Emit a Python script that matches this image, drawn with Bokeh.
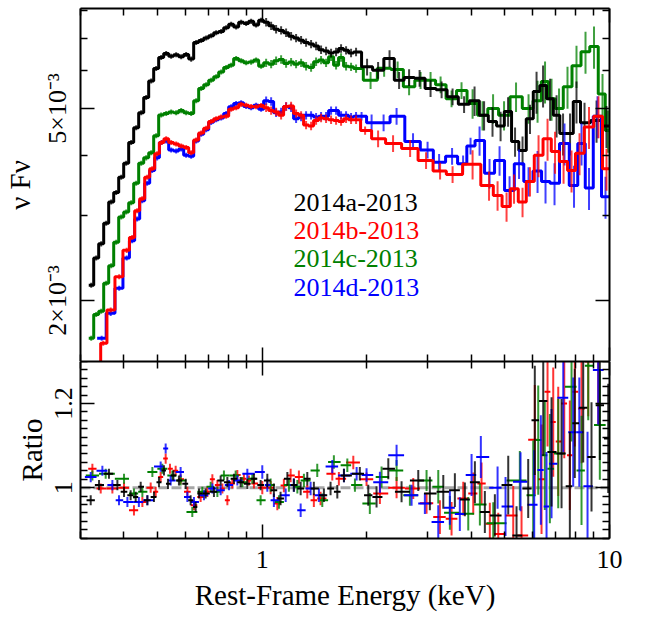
import numpy as np
from bokeh.plotting import figure
from bokeh.models import FixedTicker, LogAxis, LinearAxis, Span
from bokeh.layouts import column
from bokeh.core.properties import value
from bokeh.embed import file_html
from bokeh.resources import INLINE

FONT = "Liberation Serif"

# ---------------- data ----------------
# fine energy grid (keV, bin centres) shared by the low-energy parts of the spectra
E_FINE = [0.3221, 0.3329, 0.3441, 0.3557, 0.3677, 0.3801, 0.3929, 0.4061, 0.4198, 0.4339,
          0.4486, 0.4637, 0.4793, 0.4954, 0.5121, 0.5294, 0.5472, 0.5656, 0.5847, 0.6044,
          0.6248, 0.6458, 0.6676, 0.6901, 0.7133, 0.7374, 0.7622, 0.7879, 0.8144, 0.8418,
          0.8702, 0.8995, 0.9297, 0.9610, 0.9934, 1.0269, 1.0615, 1.0971, 1.1341, 1.1722,
          1.2117, 1.2525, 1.2947, 1.3383, 1.3834, 1.4300, 1.4781, 1.5279, 1.5794, 1.6326,
          1.6876, 1.7445, 1.8032, 1.8639]

# nu F nu in units of 1e-3
BLACK_E = E_FINE + [2.005, 2.157, 2.327, 2.479, 2.649, 2.840, 3.054, 3.286, 3.534, 3.814,
                    4.088, 4.355, 4.605, 4.858, 5.105, 5.347, 5.619, 5.904, 6.166, 6.438,
                    6.745, 7.041, 7.350, 7.699, 8.035, 8.474, 9.177, 9.80]
BLACK_F = [2.15, 2.45, 2.62, 2.89, 3.20, 3.35, 3.60, 3.85, 4.25, 4.56,
           4.90, 5.27, 5.70, 6.05, 6.38, 6.50, 6.42, 6.46, 6.40, 6.47,
           6.33, 6.85, 6.92, 7.00, 7.08, 7.18, 7.22, 7.35, 7.48, 7.38,
           7.55, 7.50, 7.58, 7.45, 7.62, 7.55, 7.42, 7.30, 7.26, 7.18,
           7.06, 7.00, 6.93, 6.85, 6.80, 6.74, 6.62, 6.58, 6.52, 6.55,
           6.66, 6.60, 6.52, 6.55,
           6.10, 6.00, 6.35, 5.72, 5.80, 5.78, 5.50, 5.47, 5.29, 5.10,
           5.19, 4.84, 4.70, 4.60, 4.93, 4.27, 4.09, 4.76, 5.42, 5.58,
           5.24, 4.84, 4.44, 4.44, 5.17, 4.67, 4.72, 4.60]

GREEN_E = E_FINE + [2.052, 2.245, 2.455, 2.649, 2.858, 3.054, 3.264, 3.510, 3.750, 4.035,
                    4.310, 4.622, 4.971, 5.382, 5.847, 6.207, 6.523, 6.810, 7.157, 7.570,
                    8.035, 8.530, 9.024, 9.548, 9.90]
GREEN_F = [1.67, 1.87, 1.90, 2.17, 2.36, 2.64, 2.98, 3.05, 3.19, 3.50,
           3.85, 3.95, 4.05, 4.39, 4.85, 4.88, 4.92, 4.90, 4.95, 4.90,
           4.88, 5.19, 5.50, 5.60, 5.72, 5.82, 5.95, 6.08, 6.15, 6.35,
           6.28, 6.22, 6.24, 6.30, 6.12, 6.22, 6.18, 6.28, 6.32, 6.20,
           6.24, 6.18, 6.22, 6.12, 6.08, 6.25, 6.30, 6.22, 6.40, 6.15,
           6.38, 6.12, 6.10, 6.05,
           5.72, 6.06, 6.02, 5.55, 5.72, 5.72, 5.60, 5.24, 5.45, 5.12,
           4.84, 5.00, 4.84, 5.29, 5.00, 5.19, 5.69, 5.24, 5.00, 5.55,
           6.13, 6.56, 6.72, 5.36, 4.50]

RED_E = ([0.3373, 0.3487, 0.3665, 0.3877, 0.4075, 0.4225, 0.4367, 0.4516, 0.4667, 0.4825,
          0.4986, 0.5138, 0.5294] + E_FINE[16:] +
         [1.979, 2.157, 2.382, 2.667, 2.964, 3.253, 3.534, 4.035, 4.500, 4.762,
          5.054, 5.311, 5.619, 5.904, 6.248, 6.632, 6.970, 7.375, 7.775, 8.198,
          8.730, 9.296, 9.804])
RED_F = [1.45, 1.63, 1.91, 2.24, 2.54, 2.70, 3.07, 3.25, 3.60, 3.75,
         4.03, 4.25, 4.33,
         4.25, 4.22, 4.18, 4.15, 4.05, 4.30, 4.45, 4.55, 4.70, 4.76,
         4.80, 4.82, 4.98, 5.02, 5.10, 5.08, 5.05, 5.04, 5.07, 5.02,
         4.95, 4.92, 4.84, 5.05, 5.06, 4.88, 4.84, 4.62, 4.60, 4.72,
         4.78, 4.76, 4.74, 4.72, 4.70, 4.76, 4.74, 4.74,
         4.50, 4.33, 4.23, 4.13, 3.90, 3.71, 3.65, 3.83, 3.46, 3.30,
         3.13, 3.41, 3.20, 3.53, 4.00, 4.33, 4.07, 3.88, 3.72, 4.04,
         4.58, 4.82, 3.75]

BLUE_E = ([0.3452, 0.3665, 0.3877, 0.4075, 0.4225, 0.4367, 0.4516, 0.4667, 0.4825, 0.4986,
           0.5138] + E_FINE[15:] +
          [1.933, 2.066, 2.237, 2.438, 2.719, 2.994, 3.232, 3.522, 3.789, 3.981,
           4.226, 4.515, 4.825, 5.156, 5.490, 5.847, 6.207, 6.544, 6.946, 7.422,
           7.904, 8.307, 8.730, 9.237, 9.739])
BLUE_F = [1.67, 1.88, 2.12, 2.45, 2.66, 2.95, 3.22, 3.50, 3.72, 3.95,
          4.25,
          4.28, 4.10, 4.08, 4.12, 4.00, 3.98, 4.28, 4.42, 4.52, 4.68,
          4.74, 4.78, 4.88, 5.04, 5.12, 5.14, 5.05, 5.02, 5.08, 4.98,
          5.19, 5.17, 4.90, 4.92, 5.05, 5.02, 4.76, 4.80, 4.84, 4.84,
          4.80, 4.82, 4.82, 4.95, 4.95, 4.84, 4.84, 4.80, 4.82,
          4.82, 4.67, 4.67, 4.82, 4.27, 4.10, 3.87, 3.98, 3.84, 4.18,
          4.29, 3.67, 3.90, 3.38, 3.84, 3.53, 3.71, 3.53, 3.50, 4.23,
          3.46, 4.23, 3.42, 4.82, 3.28]

# fractional 1-sigma errors of the spectra, by energy band (keV band edges)
FLUX_ERR_EDGES = [1.0, 2.0, 4.0, 6.0]
FLUX_ERR_FRAC = [0.012, 0.02, 0.04, 0.07, 0.10]

# ratio panel
BLACK_RE = [0.321, 0.3392, 0.3623, 0.3831, 0.4003, 0.4183, 0.4325, 0.4471, 0.4673, 0.4883,
            0.5047, 0.5217, 0.5357, 0.5553, 0.5761, 0.6025, 0.6226, 0.6436, 0.6579, 0.6878,
            0.7266, 0.7596, 0.7942, 0.8296, 0.8673, 0.9066, 0.9471, 0.9901, 1.035, 1.081,
            1.130, 1.182, 1.234, 1.291, 1.349, 1.409, 1.506, 1.574, 1.646, 1.720,
            1.911, 2.021, 2.135, 2.308, 2.520, 2.815, 3.040, 3.323, 3.588, 3.834,
            4.097, 4.377, 4.677, 5.111, 5.400, 5.834, 6.095, 6.446, 6.810, 7.277,
            7.689, 7.946, 8.401, 8.876, 9.379, 9.915]
BLACK_R = [0.97, 1.006, 1.033, 1.006, 0.99, 0.982, 0.978, 1.002, 0.97, 0.978,
           1.013, 1.041, 1.009, 1.029, 1.017, 1.009, 0.97, 0.954, 0.986, 0.986,
           0.99, 1.017, 1.013, 1.021, 1.013, 1.009, 1.021, 1.006, 1.017, 0.994,
           0.974, 1.021, 1.006, 0.998, 1.021, 0.998, 0.982, 0.998, 0.99, 1.029,
           1.033, 0.982, 0.978, 1.045, 0.99, 1.017, 0.986, 0.99, 0.994, 0.972,
           1.013, 0.942, 0.934, 1.006, 0.886, 0.998, 1.16, 1.206, 1.085, 1.081,
           1.003, 1.153, 1.19, 1.073, 1.196, 1.117]

RED_RE = [0.3246, 0.3430, 0.3706, 0.4003, 0.4276, 0.4521, 0.4777, 0.4938, 0.5104, 0.5276,
          0.5429, 0.5637, 0.5826, 0.6092, 0.6364, 0.6652, 0.6955, 0.7190, 0.7433, 0.7683,
          0.7942, 0.8207, 0.8484, 0.8862, 0.9163, 0.9471, 1.001, 1.058, 1.106, 1.155,
          1.208, 1.276, 1.349, 1.409, 1.473, 1.592, 1.663, 1.830, 1.998, 2.183,
          2.438, 2.723, 2.974, 3.249, 3.510, 3.793, 4.053, 4.282, 4.524, 4.784,
          5.283, 5.582, 6.095, 6.373, 6.632, 6.887, 7.119, 7.409, 7.689, 7.946,
          8.307, 8.685, 9.279]
RED_R = [1.045, 0.998, 0.998, 1.0, 0.946, 0.966, 1.0, 0.99, 1.025, 1.069,
         1.045, 1.04, 1.02, 0.99, 0.958, 0.978, 0.99, 1.02, 1.006, 0.998,
         0.97, 1.01, 1.03, 1.021, 1.017, 1.01, 1.0, 1.0, 0.962, 1.005,
         1.029, 1.025, 0.99, 0.97, 0.974, 1.033, 1.021, 1.06, 1.02, 0.986,
         1.0, 0.998, 0.963, 0.93, 0.926, 0.974, 0.986, 1.01, 0.914, 0.89,
         0.934, 0.886, 1.114, 1.02, 1.228, 1.156, 1.11, 1.2, 1.077, 1.228,
         1.188, 1.30, 1.28]

GREEN_RE = [0.3246, 0.3545, 0.4003, 0.4276, 0.4521, 0.4831, 0.5161, 0.5514, 0.5826, 0.6295,
            0.6728, 0.7109, 0.7433, 0.7763, 0.8390, 0.8771, 0.9371, 0.9901, 1.058, 1.118,
            1.194, 1.263, 1.319, 1.441, 1.490, 1.609, 1.759, 1.850, 2.042, 2.207,
            2.438, 2.663, 2.974, 3.214, 3.471, 3.921, 4.235, 4.628, 5.519, 6.031,
            6.235, 6.513, 6.735, 7.119, 7.775, 8.307, 8.685, 9.379]
GREEN_R = [1.029, 1.033, 1.021, 0.986, 0.99, 1.037, 1.045, 1.029, 1.017, 0.942,
           0.99, 1.002, 0.99, 1.029, 1.029, 1.013, 1.021, 0.97, 1.006, 0.966,
           1.006, 1.002, 1.017, 1.041, 0.97, 1.061, 1.053, 1.006, 0.962, 1.025,
           1.041, 0.982, 1.017, 1.002, 0.94, 0.938, 0.96, 0.915, 1.017, 0.982,
           1.113, 1.077, 1.045, 1.081, 1.24, 1.041, 1.29, 1.149]

BLUE_RE = [0.321, 0.3468, 0.3706, 0.3872, 0.4094, 0.4417, 0.4673, 0.5104, 0.5276, 0.5454,
           0.5826, 0.6092, 0.6364, 0.6801, 0.7190, 0.7596, 0.8026, 0.8484, 0.9066, 1.001,
           1.035, 1.081, 1.169, 1.234, 1.291, 1.379, 1.457, 1.592, 1.720, 1.871,
           1.998, 2.183, 2.438, 2.693, 2.941, 3.214, 3.471, 3.708, 4.008, 4.262,
           4.762, 5.020, 5.545, 6.071, 6.344, 6.588, 6.810, 7.360, 7.862, 8.186,
           8.645, 9.279]
BLUE_R = [1.025, 1.04, 1.006, 0.97, 0.966, 0.966, 0.97, 1.05, 1.093, 1.017,
          1.037, 0.978, 0.966, 0.982, 0.998, 0.994, 1.006, 1.017, 1.033, 1.037,
          1.006, 0.97, 0.982, 1.006, 0.946, 0.998, 0.982, 1.05, 1.029, 1.033,
          1.03, 1.013, 1.077, 0.982, 0.962, 0.918, 0.952, 0.937, 1.03, 1.073,
          1.0, 0.955, 1.014, 0.959, 1.042, 0.955, 1.057, 1.214, 1.132, 1.132,
          1.003, 1.28]

RATIO_ERR_EDGES = [1.0, 2.0, 3.0, 4.0, 5.0, 6.0]
RATIO_ERR = [0.012, 0.016, 0.025, 0.04, 0.05, 0.07, 0.13]

LEGEND_LABELS = ["2014a-2013", "2014b-2013", "2014c-2013", "2014d-2013"]
COLORS = {"black": "#000000", "red": "#ff0000", "green": "#008000", "blue": "#0000ff"}

X_MAJOR = [1, 10]
X_MINOR = [0.3, 0.4, 0.5, 0.6, 0.7, 0.8, 0.9, 2, 3, 4, 5, 6, 7, 8, 9]
X_LABELS = {1: "1", 10: "10"}
Y_MAJOR = [0.002, 0.005]
Y_MINOR = [0.003, 0.004, 0.006, 0.007, 0.008]
Y_LABELS = {0.002: "2×10⁻³", 0.005: "5×10⁻³"}
R_MAJOR = [1.0, 1.2]
R_MINOR = [0.88, 0.90, 0.92, 0.94, 0.96, 0.98, 1.02, 1.04, 1.06, 1.08, 1.10,
           1.12, 1.14, 1.16, 1.18, 1.22, 1.24, 1.26, 1.28, 1.30]
R_LABELS = {1.0: "1", 1.2: "1.2"}

# ---------------- layout constants ----------------
X_RANGE = (0.3, 10.0)
FLUX_RANGE = (1.494e-3, 8.06e-3)
RATIO_RANGE = (0.879, 1.30)
FLUX_UNIT = 1e-3
LEGEND_X = 1.232
LEGEND_Y = [3.19e-3, 2.79e-3, 2.44e-3, 2.13e-3]


def bin_edges(c):
    lc = np.log10(np.asarray(c, dtype=float))
    mid = (lc[:-1] + lc[1:]) / 2
    e = np.concatenate([[2 * lc[0] - mid[0]], mid, [2 * lc[-1] - mid[-1]]])
    return 10 ** e


def band(e, edges, vals):
    return np.asarray(vals)[np.digitize(e, edges)]


def style_axis(ax, ticks=None):
    ax.axis_line_width = 2
    ax.axis_line_color = "black"
    ax.major_tick_in = 14
    ax.major_tick_out = 0
    ax.minor_tick_in = 7
    ax.minor_tick_out = 0
    ax.major_tick_line_width = 1.5
    ax.minor_tick_line_width = 1.5
    ax.major_tick_line_color = "black"
    ax.minor_tick_line_color = "black"
    ax.major_label_text_font = FONT
    ax.major_label_text_font_size = "26px"
    ax.major_label_text_color = "black"
    ax.axis_label_text_font = FONT
    ax.axis_label_text_font_size = "29px"
    ax.axis_label_text_font_style = "normal"
    ax.axis_label_text_color = "black"
    if ticks is not None:  # mirror axis: ticks only, no labels
        ax.major_label_overrides = {t: "" for t in ticks}
        ax.major_label_text_font_size = "1px"
        ax.major_label_standoff = 0


def clean(p):
    p.xgrid.visible = False
    p.ygrid.visible = False
    p.outline_line_color = None
    p.background_fill_color = "white"
    p.border_fill_color = "white"


# ---------------- top panel ----------------
top = figure(x_axis_type="log", y_axis_type="log", x_range=X_RANGE, y_range=FLUX_RANGE,
             frame_width=529, frame_height=353,
             min_border_left=76, min_border_right=20, min_border_top=8, min_border_bottom=0,
             output_backend="svg", toolbar_location=None)
clean(top)

top.xaxis[0].ticker = FixedTicker(ticks=X_MAJOR, minor_ticks=X_MINOR)
style_axis(top.xaxis[0], ticks=X_MAJOR)
top.yaxis[0].ticker = FixedTicker(ticks=Y_MAJOR, minor_ticks=Y_MINOR)
style_axis(top.yaxis[0])
top.yaxis[0].major_label_overrides = Y_LABELS
top.yaxis[0].major_label_orientation = "vertical"
top.yaxis[0].major_label_standoff = 8
top.yaxis[0].axis_label = "ν Fν"
top.yaxis[0].axis_label_standoff = 5

ax_above = LogAxis(ticker=FixedTicker(ticks=X_MAJOR, minor_ticks=X_MINOR))
style_axis(ax_above, ticks=X_MAJOR)
top.add_layout(ax_above, "above")
ax_right = LogAxis(ticker=FixedTicker(ticks=Y_MAJOR, minor_ticks=Y_MINOR))
style_axis(ax_right, ticks=Y_MAJOR)
top.add_layout(ax_right, "right")

spectra = [("green", GREEN_E, GREEN_F), ("black", BLACK_E, BLACK_F),
           ("blue", BLUE_E, BLUE_F), ("red", RED_E, RED_F)]
for name, e, f in spectra:
    col = COLORS[name]
    ed = bin_edges(e)
    v = np.asarray(f) * FLUX_UNIT
    xs = np.repeat(ed, 2)[1:-1]
    ys = np.repeat(v, 2)
    frac = band(np.asarray(e), FLUX_ERR_EDGES, FLUX_ERR_FRAC)
    top.segment(x0=e, y0=v * (1 - frac), x1=e, y1=v * (1 + frac),
                line_color=col, line_width=2, line_alpha=0.75)
    top.line(xs, ys, line_color=col, line_width=3)

legend_colors = [COLORS["black"], COLORS["red"], COLORS["green"], COLORS["blue"]]
top.text(x=[LEGEND_X] * 4, y=LEGEND_Y, text=LEGEND_LABELS, text_color=legend_colors,
         text_font=value(FONT), text_font_size="26px",
         text_align="left", text_baseline="middle")

# ---------------- ratio panel ----------------
bot = figure(x_axis_type="log", x_range=top.x_range, y_range=RATIO_RANGE,
             frame_width=529, frame_height=177,
             min_border_left=76, min_border_right=20, min_border_top=0, min_border_bottom=76,
             output_backend="svg", toolbar_location=None)
clean(bot)

bot.xaxis[0].ticker = FixedTicker(ticks=X_MAJOR, minor_ticks=X_MINOR)
style_axis(bot.xaxis[0])
bot.xaxis[0].major_label_overrides = X_LABELS
bot.xaxis[0].major_label_standoff = 12
bot.xaxis[0].axis_label = "Rest-Frame Energy (keV)"
bot.xaxis[0].axis_label_standoff = 8

bot.yaxis[0].ticker = FixedTicker(ticks=R_MAJOR, minor_ticks=R_MINOR)
style_axis(bot.yaxis[0])
bot.yaxis[0].major_label_overrides = R_LABELS
bot.yaxis[0].major_label_orientation = "vertical"
bot.yaxis[0].major_label_standoff = 8
bot.yaxis[0].axis_label = "Ratio"
bot.yaxis[0].axis_label_standoff = 5

bx_above = LogAxis(ticker=FixedTicker(ticks=X_MAJOR, minor_ticks=X_MINOR))
style_axis(bx_above, ticks=X_MAJOR)
bot.add_layout(bx_above, "above")
by_right = LinearAxis(ticker=FixedTicker(ticks=R_MAJOR, minor_ticks=R_MINOR))
style_axis(by_right, ticks=R_MAJOR)
bot.add_layout(by_right, "right")

bot.add_layout(Span(location=1.0, dimension="width", line_color="#808080",
                    line_alpha=0.7, line_width=3, line_dash="10 3", level="underlay"))

ratios = [("red", RED_RE, RED_R), ("green", GREEN_RE, GREEN_R),
          ("blue", BLUE_RE, BLUE_R), ("black", BLACK_RE, BLACK_R)]
for name, e, r in ratios:
    col = COLORS[name]
    e = np.asarray(e)
    r = np.asarray(r)
    ed = bin_edges(e)
    err = band(e, RATIO_ERR_EDGES, RATIO_ERR)
    bot.segment(x0=ed[:-1], y0=r, x1=ed[1:], y1=r, line_color=col, line_width=2)
    bot.segment(x0=e, y0=r - err, x1=e, y1=r + err, line_color=col, line_width=2,
                line_alpha=0.8)

layout = column(top, bot, spacing=0)
open("out.html", "w").write(file_html(layout, INLINE, title="nuFnu ratio"))
